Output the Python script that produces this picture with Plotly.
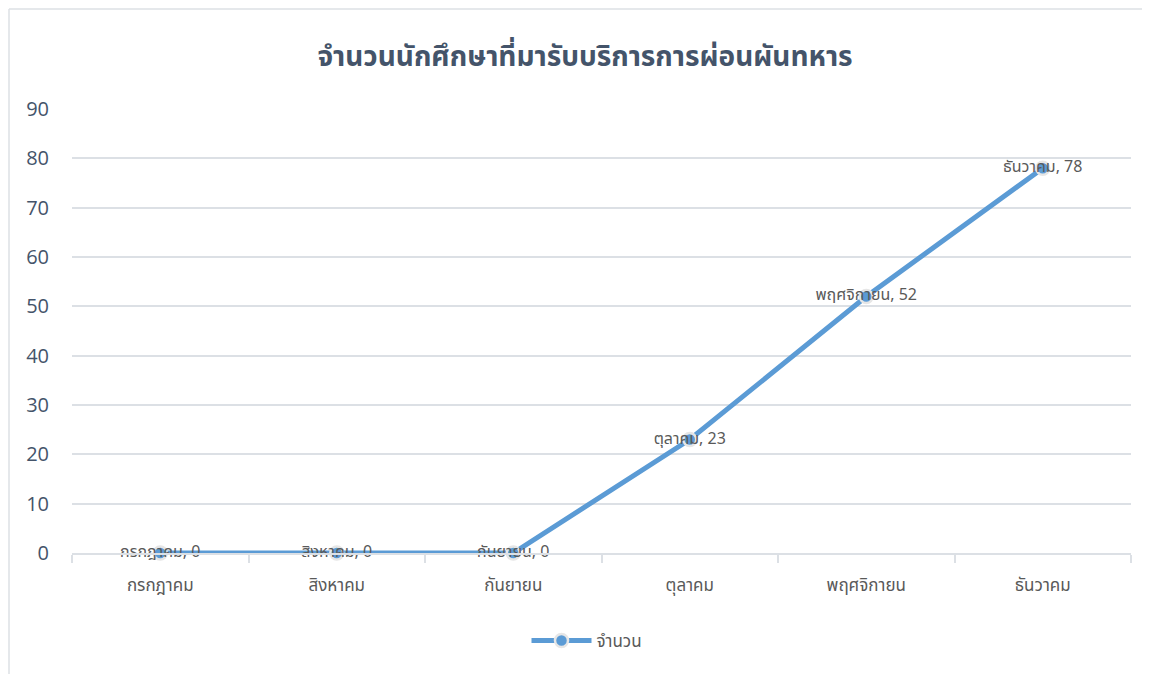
import plotly.graph_objects as go

months = ["กรกฎาคม", "สิงหาคม", "กันยายน", "ตุลาคม", "พฤศจิกายน", "ธันวาคม"]
counts = [0, 0, 0, 23, 52, 78]
series_name = "จำนวน"
title_text = "จำนวนนักศึกษาที่มารับบริการการผ่อนผันทหาร"
y_ticks = [0, 10, 20, 30, 40, 50, 60, 70, 80, 90]

labels = [f"{m}, {v}" for m, v in zip(months, counts)]

FONT = "Noto Sans Thai, Tahoma, Noto Sans, sans-serif"
GRID = "#DCE0E5"

fig = go.Figure()
fig.add_trace(go.Scatter(
    x=months, y=counts, name=series_name,
    mode="lines+markers+text",
    line=dict(color="#5B9BD5", width=5),
    marker=dict(size=13, color="#5B9BD5", line=dict(color="#E6E6E6", width=2.5)),
    text=labels, textposition="middle center",
    textfont=dict(size=16, color="#595959", family=FONT),
    cliponaxis=False,
))

W, H = 1142, 666
ml, mr, mt, mb = 64, 19, 101, 121
PW, PH = W - ml - mr, H - mt - mb

fig.update_layout(
    width=W, height=H,
    margin=dict(l=ml, r=mr, t=mt, b=mb),
    paper_bgcolor="white", plot_bgcolor="white",
    font=dict(family=FONT, color="#595959"),
    title=dict(text=f"<b>{title_text}</b>", x=577 / W, xref="container", xanchor="center",
               y=1 - 48 / H, yanchor="middle",
               font=dict(size=28, color="#44546A", family=FONT)),
    showlegend=True,
    legend=dict(orientation="h", x=(579 - ml) / PW, xanchor="center",
                y=-(633 - 545) / PH, yanchor="middle",
                font=dict(size=17, color="#595959", family=FONT),
                itemwidth=60),
    xaxis=dict(
        type="category", categoryorder="array", categoryarray=months,
        range=[-0.5, len(months) - 0.5],
        showgrid=False, showline=True, linecolor=GRID, linewidth=1.5,
        ticks="outside", tickson="boundaries", ticklen=8, tickcolor=GRID, tickwidth=1.5,
        tickfont=dict(size=17, color="#595959", family=FONT),
        ticklabelstandoff=16,
    ),
    yaxis=dict(
        range=[0, 90], tickvals=y_ticks,
        showgrid=True, gridcolor=GRID, gridwidth=1.5,
        zeroline=False, showline=False,
        tickfont=dict(size=20, color="#44546A", family="Open Sans, sans-serif"),
        ticklabelstandoff=22,
    ),
    shapes=[
        dict(type="line", xref="paper", yref="paper",
             x0=(1 - ml) / PW, x1=(W - ml) / PW,
             y0=1 + (mt - 1) / PH, y1=1 + (mt - 1) / PH,
             line=dict(color=GRID, width=1.5)),
        dict(type="line", xref="paper", yref="paper",
             x0=(1 - ml) / PW, x1=(1 - ml) / PW,
             y0=1 + (mt - 1) / PH, y1=-(H - 545) / PH,
             line=dict(color=GRID, width=1.5)),
    ],
)

fig.write_html("out.html")
